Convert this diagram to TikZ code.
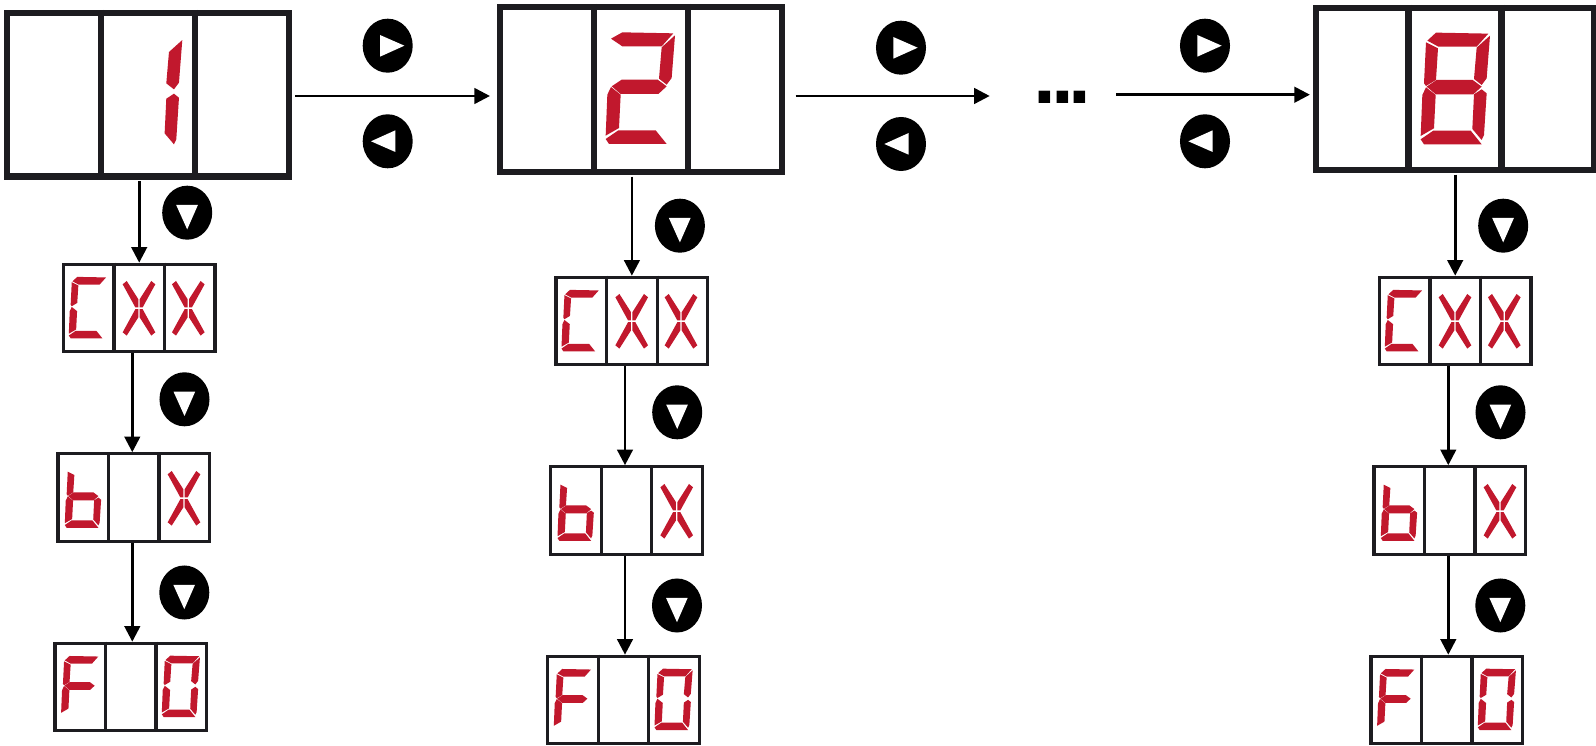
\documentclass[tikz,border=0pt]{standalone}
\usepackage{xcolor}
\usepackage{fontspec}
\newfontfamily\dotfont{DejaVu Sans}
\usetikzlibrary{arrows.meta,calc,shapes.geometric}
\definecolor{segRed}{HTML}{C1182D}
\definecolor{frameBlack}{HTML}{1D1C20}
\tikzset{
  bigbox/.style={draw=frameBlack,line width=.065cm,inner sep=0,minimum width=2.814cm,minimum height=1.634cm},
  minibox/.style={draw=frameBlack,line width=.033cm,inner sep=0,minimum width=1.517cm,minimum height=.873cm},
  flow/.style={-{Triangle[length=.155cm,width=.155cm]},line width=.026cm,black},
  btn/.style={ellipse,fill=black,inner sep=0,minimum width=.5cm,minimum height=.54cm},
  tri/.pic={\fill[white] (-7.7,-10.7)--(16.7,0)--(-7.7,11)--cycle;},
  sega/.pic={\fill[segRed] (-83,-143)--(-57,-167)--(100,-164)--(65,-125)--(-50,-125)--cycle;},
  segA/.pic={\fill[segRed] (-87,-148)--(-53,-167)--(100,-164)--(65,-125)--(-53,-125)--cycle;},
  segb/.pic={\fill[segRed] (105,-158)--(95,-30)--(80,-10)--(57,-28)--(65,-122)--cycle;},
  segc/.pic={\fill[segRed] (80,3)--(95,15)--(87,140)--(80,155)--(52,122)--(57,18)--cycle;},
  segd/.pic={\fill[segRed] (-65,127)--(47,127)--(80,168)--(-93,168)--(-103,153)--cycle;},
  sege/.pic={\fill[segRed] (-87,-3)--(-58,20)--(-63,120)--(-103,143)--(-98,20)--cycle;},
  segf/.pic={\fill[segRed] (-87,-138)--(-51,-120)--(-57,-25)--(-87,-7)--(-93,-15)--cycle;},
  segg/.pic={\fill[segRed] (-85,-5)--(-55,-25)--(53,-25)--(80,-5)--(55,18)--(-58,18)--cycle;},
  segp/.pic={\fill[segRed] (-89,-131)--(-67,-149)--(-4,-50)--(-4,-5)--(-20,-5)--cycle;},
  segq/.pic={\fill[segRed] (89,-131)--(67,-149)--(4,-50)--(4,-5)--(20,-5)--cycle;},
  segr/.pic={\fill[segRed] (-89,131)--(-67,149)--(-4,50)--(-4,5)--(-20,5)--cycle;},
  segs/.pic={\fill[segRed] (89,131)--(67,149)--(4,50)--(4,5)--(20,5)--cycle;},
}
\newcommand{\thirds}[2]{
  \draw[frameBlack,line width=#2] ($(#1.north west)!.337!(#1.north east)$)--($(#1.south west)!.337!(#1.south east)$);
  \draw[frameBlack,line width=#2] ($(#1.north west)!.663!(#1.north east)$)--($(#1.south west)!.663!(#1.south east)$);
}
\newcommand{\segs}[4]{\foreach \s in {#4} \path (#1,#2) pic[scale=#3]{seg\s};}
\newcommand{\pushbtn}[4]{\node[btn] (#1) at (#2,#3) {}; \path (#1) pic[rotate=#4]{tri};}
\begin{document}
\begin{tikzpicture}[x=.01cm,y=-.01cm]
\path[use as bounding box,fill=white] (0,0) rectangle (1596,746);
\node[bigbox] (disp1) at (148,95) {};
\node[bigbox,minimum height=1.645cm] (disp2) at (641,89.5) {};
\node[bigbox,minimum width=2.775cm,minimum height=1.615cm] (disp3) at (1455,89) {};
\foreach \n in {1,2,3} {\thirds{disp\n}{.065cm}}
\segs{147.3}{92.7}{.3333}{b,c}
\segs{640}{88}{.3333}{A,b,g,e,d}
\segs{1455}{88.3}{.3333}{a,b,c,d,e,f,g}
\node[font=\dotfont\bfseries\fontsize{18.5}{22}\selectfont,inner sep=0] (dots) at (1062.5,97.7) {.\kern-.07cm.\kern-.07cm.};
\coordinate (oa) at (0,96);
\coordinate (ob) at (0,94.7);
\draw[flow,shorten <=.03cm,shorten >=.07cm] (disp1.east |- oa)--(disp2.west |- oa);
\draw[flow,shorten <=.105cm,shorten >=.42cm] (disp2.east |- oa)--(dots.west |- oa);
\draw[flow,shorten <=.23cm,shorten >=.03cm] (dots.east |- ob)--(disp3.west |- ob);
\pushbtn{ra}{387.7}{45.7}{0}
\pushbtn{la}{387.7}{141.3}{180}
\pushbtn{rb}{901}{47.7}{0}
\pushbtn{lb}{901}{144}{180}
\pushbtn{rc}{1205}{45.7}{0}
\pushbtn{lc}{1205}{141.3}{180}
\foreach \n/\dx/\dy in {1/0/0,2/492.7/13,3/1316/13} {
\begin{scope}[shift={(\dx,\dy)}]
\node[minibox] (c\n) at (139.2,308) {};
\node[minibox] (b\n) at (133.8,497.5) {};
\node[minibox] (f\n) at (130.8,687) {};
\thirds{c\n}{.033cm}
\thirds{b\n}{.033cm}
\thirds{f\n}{.033cm}
\segs{87.7}{307.5}{.1833}{a,f,e,d}
\segs{139}{308.3}{.1833}{p,q,r,s}
\segs{188.3}{308.3}{.1833}{p,q,r,s}
\segs{83.7}{497}{.1833}{f,e,g,c,d}
\segs{184}{498.3}{.1833}{p,q,r,s}
\segs{80}{686.6}{.1833}{a,f,g,e}
\segs{180.7}{686.3}{.1833}{a,b,c,d,e,f}
\coordinate (ca\n) at (132.3,0);
\coordinate (ba\n) at (132.3,0);
\draw[flow,shorten <=.015cm] (disp\n.south -| c\n.north)--(c\n.north);
\draw[flow] (ca\n |- c\n.south)--(ca\n |- b\n.north);
\draw[flow] (ba\n |- b\n.south)--(ba\n |- f\n.north);
\pushbtn{dc\n}{187.2}{212.7}{-90}
\pushbtn{db\n}{184.5}{399.3}{-90}
\pushbtn{df\n}{184.3}{592.5}{-90}
\end{scope}
}
\end{tikzpicture}
\end{document}
